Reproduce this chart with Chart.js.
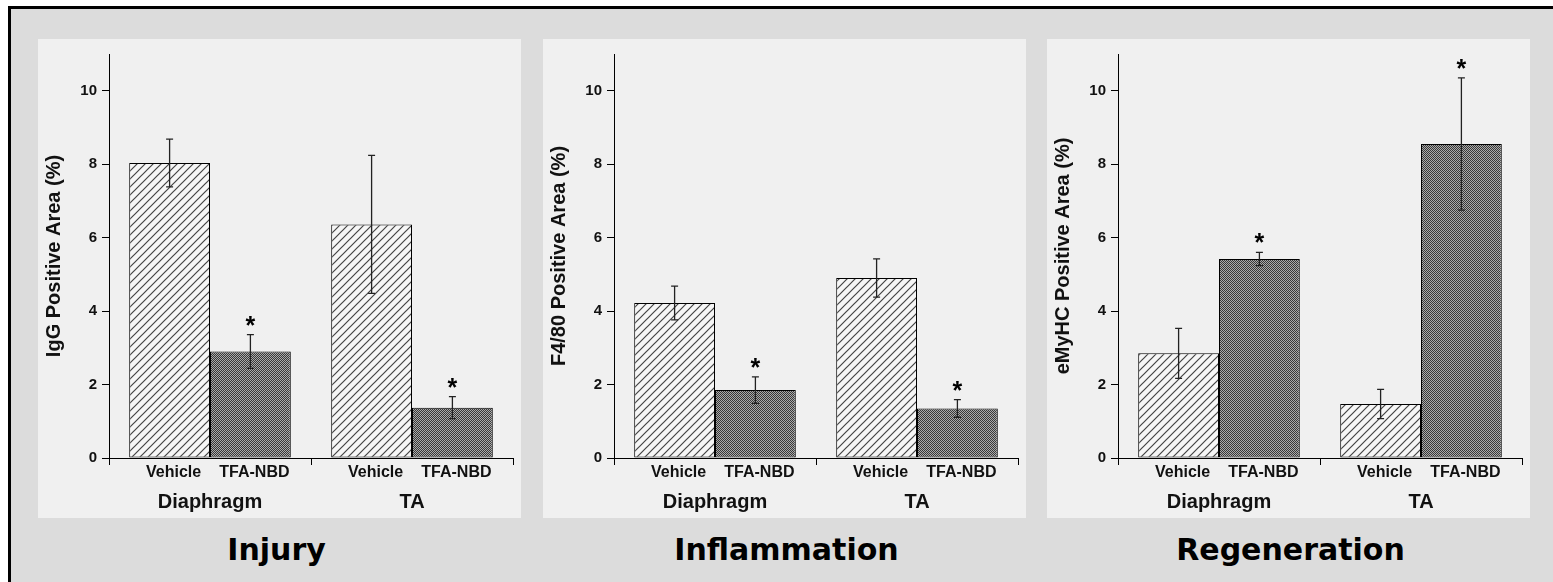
<!DOCTYPE html>
<html lang="en">
  <head>
    <meta charset="UTF-8" />
    <title>TFA-NBD muscle histology</title>
    <script src="https://cdn.jsdelivr.net/npm/chart.js"></script>
    <style>
      body {
        margin: 0;
        background: #fff;
        width: 1553px;
        height: 582px;
        overflow: hidden;
        position: relative;
      }
      #frame {
        position: absolute;
        left: 8px;
        top: 6px;
        right: 0;
        bottom: 0;
        border-left: 3px solid #000;
        border-top: 3px solid #000;
        background: #dcdcdc;
      }
      .panel {
        position: absolute;
        top: 39px;
        width: 483px;
        height: 479px;
        background: #f0f0f0;
      }
      .caption {
        position: absolute;
        top: 532px;
        width: 483px;
        text-align: center;
        font-family: "DejaVu Sans", Verdana, sans-serif;
        font-weight: bold;
        font-size: 30px;
        color: #000;
      }
    </style>
  </head>
  <body>
    <div id="frame"></div>

    <div class="panel" style="left: 38px"><canvas id="injury-chart" width="483" height="479"></canvas></div>
    <div class="panel" style="left: 543px"><canvas id="inflammation-chart" width="483" height="479"></canvas></div>
    <div class="panel" style="left: 1047px"><canvas id="regeneration-chart" width="483" height="479"></canvas></div>

    <div class="caption" style="left: 35px">Injury</div>
    <div class="caption" style="left: 545px">Inflammation</div>
    <div class="caption" style="left: 1049px">Regeneration</div>

    <script>
      // muscle groups and treatments
      const muscles = ["Diaphragm", "TA"];
      const treatments = ["Vehicle", "TFA-NBD"];
      const yTicks = [0, 2, 4, 6, 8, 10];

      // Injury: IgG positive area (%)
      const injuryVehicle = [8.03, 6.36];
      const injuryVehicleErr = [0.65, 1.88];
      const injuryTfa = [2.9, 1.37];
      const injuryTfaErr = [0.46, 0.3];

      // Inflammation: F4/80 positive area (%)
      const inflamVehicle = [4.22, 4.9];
      const inflamVehicleErr = [0.46, 0.52];
      const inflamTfa = [1.85, 1.35];
      const inflamTfaErr = [0.36, 0.24];

      // Regeneration: eMyHC positive area (%)
      const regenVehicle = [2.85, 1.47];
      const regenVehicleErr = [0.68, 0.4];
      const regenTfa = [5.42, 8.55];
      const regenTfaErr = [0.18, 1.8];

      // significance stars (TFA-NBD vs vehicle)
      const tfaSignificant = [true, true];

      Chart.defaults.font.family = "'Liberation Sans', Arial, sans-serif";
      Chart.defaults.font.weight = "bold";
      Chart.defaults.color = "#111";

      // diagonal hatch for vehicle bars
      function hatchPattern() {
        const c = document.createElement("canvas");
        c.width = 8;
        c.height = 8;
        const g = c.getContext("2d");
        g.fillStyle = "#f6f6f6";
        g.fillRect(0, 0, 8, 8);
        g.strokeStyle = "#444";
        g.lineWidth = 1.2;
        g.beginPath();
        g.moveTo(0, 8);
        g.lineTo(8, 0);
        g.moveTo(-2, 2);
        g.lineTo(2, -2);
        g.moveTo(6, 10);
        g.lineTo(10, 6);
        g.stroke();
        return g.createPattern(c, "repeat");
      }

      // fine dark checker for TFA-NBD bars
      function checkerPattern() {
        const c = document.createElement("canvas");
        c.width = 2;
        c.height = 2;
        const g = c.getContext("2d");
        g.fillStyle = "#aaaaaa";
        g.fillRect(0, 0, 2, 2);
        g.fillStyle = "#383838";
        g.fillRect(0, 0, 1, 1);
        g.fillRect(1, 1, 1, 1);
        return g.createPattern(c, "repeat");
      }

      // error bars, stars and the treatment labels under each bar
      const barExtras = {
        id: "barExtras",
        afterDatasetsDraw(chart) {
          const ctx = chart.ctx;
          const y = chart.scales.y;
          ctx.save();
          chart.data.datasets.forEach((ds, di) => {
            const meta = chart.getDatasetMeta(di);
            meta.data.forEach((bar, i) => {
              const v = ds.data[i];
              const e = ds.errors[i];
              const top = y.getPixelForValue(v + e);
              const bot = y.getPixelForValue(v - e);
              ctx.strokeStyle = "#222";
              ctx.lineWidth = 1.3;
              ctx.beginPath();
              ctx.moveTo(bar.x, top);
              ctx.lineTo(bar.x, bot);
              ctx.moveTo(bar.x - 3.5, top);
              ctx.lineTo(bar.x + 3.5, top);
              ctx.moveTo(bar.x - 3.5, bot);
              ctx.lineTo(bar.x + 3.5, bot);
              ctx.stroke();
              if (ds.stars && ds.stars[i]) {
                ctx.fillStyle = "#000";
                ctx.font = "bold 25px 'Liberation Sans', Arial, sans-serif";
                ctx.textAlign = "center";
                ctx.textBaseline = "alphabetic";
                ctx.fillText("*", bar.x, top - 1);
              }
            });
          });
          ctx.restore();
        },
        afterDraw(chart) {
          const ctx = chart.ctx;
          ctx.save();
          ctx.fillStyle = "#111";
          ctx.font = "bold 16px 'Liberation Sans', Arial, sans-serif";
          ctx.textAlign = "center";
          ctx.textBaseline = "middle";
          chart.data.datasets.forEach((ds, di) => {
            chart.getDatasetMeta(di).data.forEach((bar) => {
              ctx.fillText(ds.label, bar.x + 4, chart.chartArea.bottom + 15);
            });
          });
          ctx.restore();
        },
      };

      function makeChart(id, yTitle, veh, vehErr, tfa, tfaErr) {
        new Chart(document.getElementById(id), {
          type: "bar",
          data: {
            labels: muscles,
            datasets: [
              {
                label: treatments[0],
                data: veh,
                errors: vehErr,
                backgroundColor: hatchPattern(),
                borderColor: "#000",
                borderWidth: 1,
                borderSkipped: false,
              },
              {
                label: treatments[1],
                data: tfa,
                errors: tfaErr,
                stars: tfaSignificant,
                backgroundColor: checkerPattern(),
                borderColor: "#000",
                borderWidth: 1,
                borderSkipped: false,
              },
            ],
          },
          options: {
            responsive: false,
            animation: false,
            layout: { padding: { top: 15, right: 8, left: 0, bottom: 0 } },
            plugins: {
              legend: { display: false },
              tooltip: { enabled: false },
            },
            datasets: { bar: { categoryPercentage: 0.8, barPercentage: 1.0 } },
            scales: {
              x: {
                offset: true,
                grid: {
                  offset: true,
                  drawOnChartArea: false,
                  tickLength: 7,
                  color: "#000",
                },
                border: { color: "#000", width: 1 },
                ticks: {
                  padding: 25,
                  color: "#111",
                  font: { size: 20, weight: "bold" },
                },
                afterFit(scale) {
                  scale.height = 60;
                },
              },
              y: {
                min: 0,
                max: 11,
                afterBuildTicks(scale) {
                  scale.ticks = yTicks.map((v) => ({ value: v }));
                },
                grid: {
                  drawOnChartArea: false,
                  tickLength: 7,
                  color: "#000",
                },
                border: { color: "#000", width: 1 },
                ticks: {
                  padding: 5,
                  color: "#111",
                  font: { size: 15, weight: "bold" },
                },
                title: {
                  display: true,
                  text: yTitle,
                  color: "#111",
                  font: { size: 20, weight: "bold", lineHeight: 1 },
                  padding: { top: 6, bottom: 0 },
                },
                afterFit(scale) {
                  scale.width = 71;
                },
              },
            },
          },
          plugins: [barExtras],
        });
      }

      makeChart("injury-chart", "IgG Positive Area (%)", injuryVehicle, injuryVehicleErr, injuryTfa, injuryTfaErr);
      makeChart("inflammation-chart", "F4/80 Positive Area (%)", inflamVehicle, inflamVehicleErr, inflamTfa, inflamTfaErr);
      makeChart("regeneration-chart", "eMyHC Positive Area (%)", regenVehicle, regenVehicleErr, regenTfa, regenTfaErr);
    </script>
  </body>
</html>
